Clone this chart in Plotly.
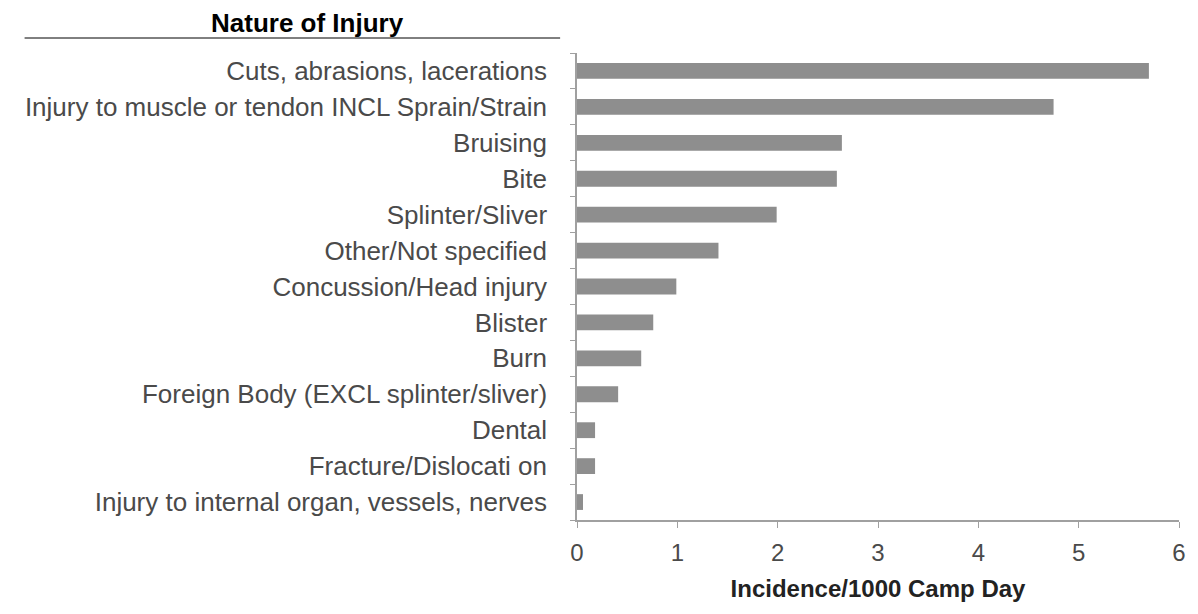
import plotly.graph_objects as go

categories = [
    "Cuts, abrasions, lacerations",
    "Injury to muscle or tendon INCL Sprain/Strain",
    "Bruising",
    "Bite",
    "Splinter/Sliver",
    "Other/Not specified",
    "Concussion/Head injury",
    "Blister",
    "Burn",
    "Foreign Body (EXCL splinter/sliver)",
    "Dental",
    "Fracture/Dislocati on",
    "Injury to internal organ, vessels, nerves",
]
values = [5.70, 4.75, 2.64, 2.59, 1.99, 1.41, 0.99, 0.76, 0.64, 0.41, 0.18, 0.18, 0.06]
x_ticks = [0, 1, 2, 3, 4, 5, 6]

# page body adds an 8px margin; figure coordinates are screen minus 8
OFF = 8
W, H = 1190, 606
L, R, T, B = 577 - OFF, 14, 53 - OFF, 94
pw, ph = W - L - R, H - T - B

def px(xs):
    return (xs - OFF - L) / pw

def py(ys):
    return (H - B - (ys - OFF)) / ph

fig = go.Figure(go.Bar(
    x=values, y=categories, orientation="h",
    marker=dict(color="#8e8e8e", line=dict(width=0)),
    width=0.44,
))

fig.update_layout(
    width=W, height=H,
    margin=dict(l=L, r=R, t=T, b=B),
    plot_bgcolor="white", paper_bgcolor="white",
    showlegend=False,
    font=dict(family="Liberation Sans, Arial, sans-serif", color="#4a4a4a", size=25),
    xaxis=dict(
        range=[0, 6], tickvals=x_ticks, ticktext=[str(v) for v in x_ticks],
        showgrid=False, zeroline=False,
        showline=True, linecolor="#a0a0a0", linewidth=1.5,
        ticks="outside", ticklen=6, tickcolor="#a0a0a0",
        tickfont=dict(size=24, color="#4a4a4a"),
        ticklabelstandoff=4,
        title=dict(text="<b>Incidence/1000 Camp Day</b>", standoff=16,
                   font=dict(size=24, color="#222222")),
    ),
    yaxis=dict(
        categoryorder="array", categoryarray=categories[::-1],
        autorange=False, range=[-0.5, len(categories) - 0.5],
        showgrid=False, zeroline=False,
        showline=True, linecolor="#a0a0a0", linewidth=1.5,
        ticks="outside", ticklen=5, tickcolor="#a0a0a0", tickson="boundaries",
        tickfont=dict(size=26, color="#4a4a4a"),
        ticklabelstandoff=23,
    ),
    annotations=[dict(
        text="<b>Nature of Injury</b>", xref="paper", yref="paper",
        x=px(305), y=py(23), xanchor="center", yanchor="middle",
        showarrow=False, font=dict(size=26, color="black"),
    )],
    shapes=[dict(
        type="line", xref="paper", yref="paper",
        x0=px(20), x1=px(560), y0=py(38), y1=py(38),
        line=dict(color="black", width=1),
    )],
)

fig.write_html("out.html")
